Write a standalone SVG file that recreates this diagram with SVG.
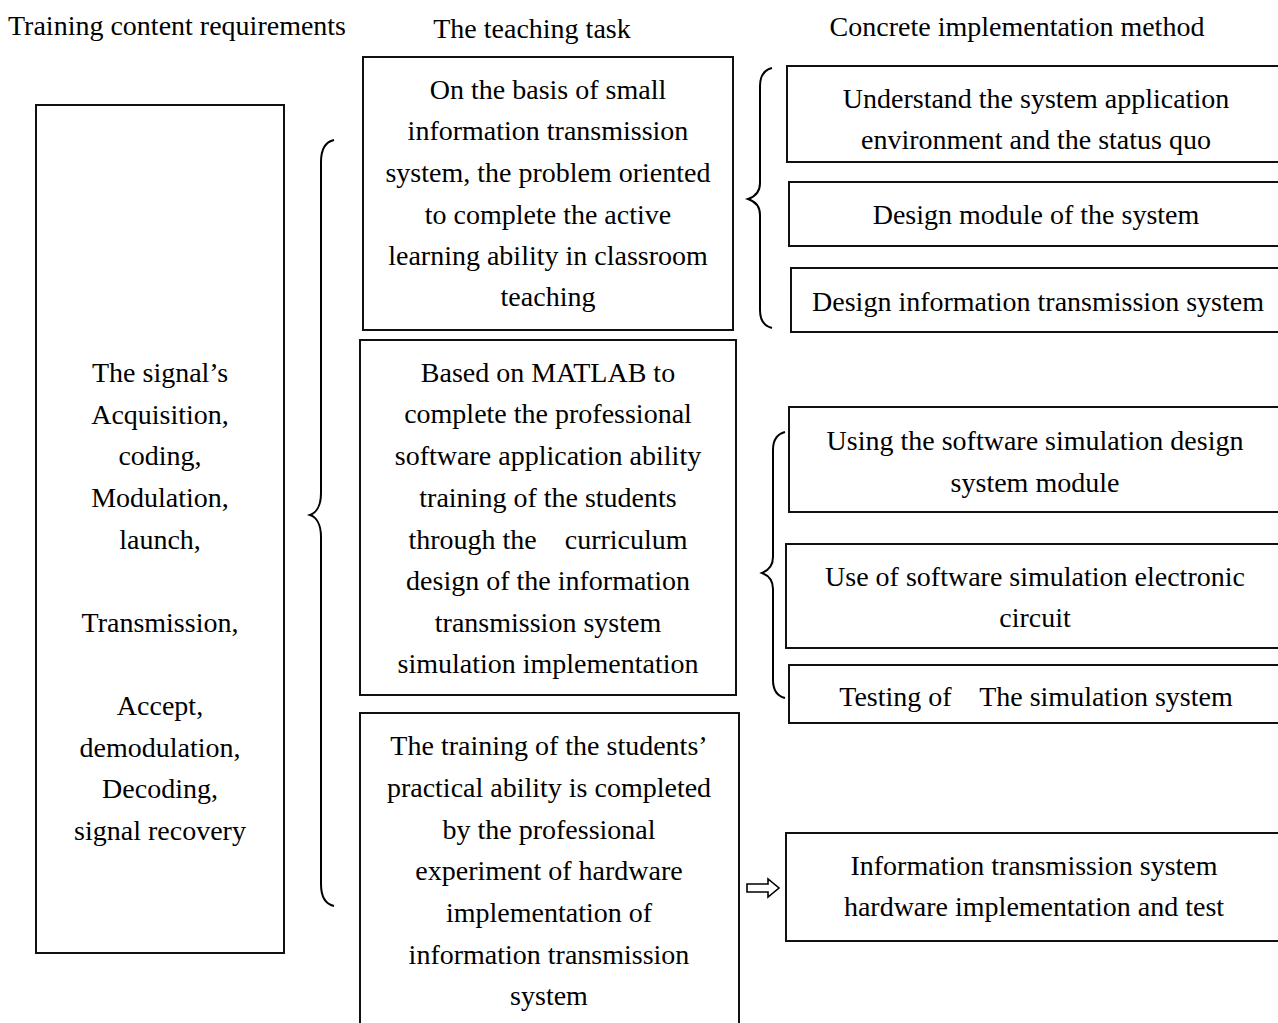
<svg xmlns="http://www.w3.org/2000/svg" width="1278" height="1023" viewBox="0 0 1278 1023">
<style>
text{font-family:"Liberation Serif","Times New Roman",serif;font-size:28px;fill:#000;text-anchor:middle}
.hd{text-anchor:start}
.box{fill:#fff;stroke:#111;stroke-width:2}
.br{fill:none;stroke:#000;stroke-width:2}
</style>
<rect width="1278" height="1023" fill="#fff"/>
<g id="headers">
<text class="hd" x="8" y="35">Training content requirements</text>
<text x="532" y="38">The teaching task</text>
<text x="1017" y="36">Concrete implementation method</text>
</g>
<g id="node-requirements">
<rect class="box" x="36" y="105" width="248" height="848"/>
<text x="160" y="382">The signal’s</text>
<text x="160" y="424">Acquisition,</text>
<text x="160" y="465">coding,</text>
<text x="160" y="507">Modulation,</text>
<text x="160" y="549">launch,</text>
<text x="160" y="632">Transmission,</text>
<text x="160" y="715">Accept,</text>
<text x="160" y="757">demodulation,</text>
<text x="160" y="798">Decoding,</text>
<text x="160" y="840">signal recovery</text>
</g>
<g id="node-task1">
<rect class="box" x="363" y="57" width="370" height="273"/>
<text x="548" y="99">On the basis of small</text>
<text x="548" y="140">information transmission</text>
<text x="548" y="182">system, the problem oriented</text>
<text x="548" y="224">to complete the active</text>
<text x="548" y="265">learning ability in classroom</text>
<text x="548" y="306">teaching</text>
</g>
<g id="node-task2">
<rect class="box" x="360" y="340" width="376" height="355"/>
<text x="548" y="382">Based on MATLAB to</text>
<text x="548" y="423">complete the professional</text>
<text x="548" y="465">software application ability</text>
<text x="548" y="507">training of the students</text>
<text x="548" y="549" xml:space="preserve">through the    curriculum</text>
<text x="548" y="590">design of the information</text>
<text x="548" y="632">transmission system</text>
<text x="548" y="673">simulation implementation</text>
</g>
<g id="node-task3">
<rect class="box" x="360" y="713" width="379" height="330"/>
<text x="549" y="755">The training of the students’</text>
<text x="549" y="797">practical ability is completed</text>
<text x="549" y="839">by the professional</text>
<text x="549" y="880">experiment of hardware</text>
<text x="549" y="922">implementation of</text>
<text x="549" y="964">information transmission</text>
<text x="549" y="1005">system</text>
</g>
<g id="node-m1">
<rect class="box" x="787" y="66" width="500" height="96"/>
<text x="1036" y="108">Understand the system application</text>
<text x="1036" y="149">environment and the status quo</text>
</g>
<g id="node-m2">
<rect class="box" x="789" y="182" width="500" height="64"/>
<text x="1036" y="224">Design module of the system</text>
</g>
<g id="node-m3">
<rect class="box" x="791" y="268" width="500" height="64"/>
<text x="1038" y="311">Design information transmission system</text>
</g>
<g id="node-m4">
<rect class="box" x="789" y="407" width="500" height="105"/>
<text x="1035" y="450">Using the software simulation design</text>
<text x="1035" y="492">system module</text>
</g>
<g id="node-m5">
<rect class="box" x="786" y="544" width="500" height="104"/>
<text x="1035" y="586">Use of software simulation electronic</text>
<text x="1035" y="627">circuit</text>
</g>
<g id="node-m6">
<rect class="box" x="789" y="665" width="500" height="58"/>
<text x="1036" y="706" xml:space="preserve">Testing of    The simulation system</text>
</g>
<g id="node-m7">
<rect class="box" x="786" y="833" width="500" height="108"/>
<text x="1034" y="875">Information transmission system</text>
<text x="1034" y="916">hardware implementation and test</text>
</g>
<g id="connectors">
<path class="br" d="M334,140 C325,142 321,150 321,162 L321,493 C321,506 316,513 310,515 C316,517 321,524 321,537 L321,884 C321,896 325,904 334,906"/>
<path class="br" d="M772,68 C764,70 760,76 760,86 L760,183 C760,193 754,197 748,199 C754,201 760,205 760,215 L760,310 C760,320 764,326 772,328"/>
<path class="br" d="M785,432 C777,434 773,440 773,450 L773,557 C773,567 767,571 762,573 C767,575 773,579 773,589 L773,680 C773,690 777,696 785,698"/>
<path fill="#fff" stroke="#000" stroke-width="1.6" stroke-linejoin="miter" d="M747,884 L768,884 L768,879 L779,888 L768,897 L768,892 L747,892 Z"/>
</g>
</svg>
